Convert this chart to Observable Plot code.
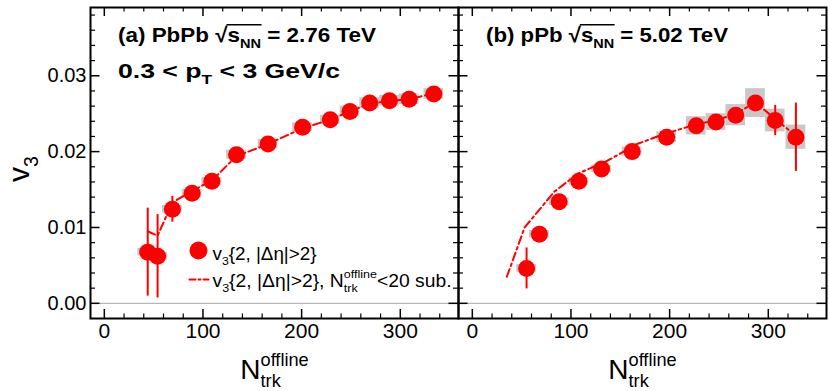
<!DOCTYPE html>
<html>
<head>
<meta charset="utf-8">
<script src="https://cdn.jsdelivr.net/npm/d3@7"></script>
<script src="https://cdn.jsdelivr.net/npm/@observablehq/plot@0.6"></script>
<style>
html, body { margin: 0; padding: 0; background: #fff; }
#chart { width: 830px; height: 391px; }
</style>
</head>
<body>
<div id="chart"></div>
<script>
// ---------------- data ----------------
const panels = ["a", "b"];

// (a) PbPb 2.76 TeV : v3{2,|Δη|>2}
const pbpbN     = [44, 54, 69, 89, 109, 134, 166, 201, 229, 249, 269, 289, 309, 334];
const pbpbV3    = [0.00675, 0.0062, 0.0124, 0.0145, 0.0161, 0.0196, 0.0210, 0.0232, 0.0242, 0.0253, 0.0264, 0.0267, 0.0269, 0.0276];
const pbpbStat  = [0.0058, 0.0055, 0.0017, 0.0004, 0.0004, 0.0004, 0.0004, 0.0003, 0.0003, 0.0003, 0.0003, 0.0003, 0.0003, 0.0003];
const pbpbSyst  = [0.0005, 0.0005, 0.0005, 0.0005, 0.0005, 0.0006, 0.0006, 0.0006, 0.0006, 0.0007, 0.0007, 0.0007, 0.0007, 0.0007];
// (a) low-multiplicity (N<20) subtracted
const pbpbSubN  = [44, 54, 69, 89, 109, 134, 166, 201, 229, 249, 269, 289, 309, 334];
const pbpbSubV3 = [0.0095, 0.0089, 0.0133, 0.0148, 0.0162, 0.0194, 0.0210, 0.0231, 0.0242, 0.0253, 0.0263, 0.0267, 0.0269, 0.0277];

// (b) pPb 5.02 TeV : v3{2,|Δη|>2}
const ppbN      = [55, 68, 88, 108, 131, 162, 197, 227, 247, 267, 287, 307, 328];
const ppbV3     = [0.0046, 0.0091, 0.0134, 0.0161, 0.0177, 0.0200, 0.0219, 0.0234, 0.0239, 0.0248, 0.0264, 0.0241, 0.0219];
const ppbStat   = [0.0027, 0.0004, 0.0004, 0.0004, 0.0004, 0.0004, 0.0004, 0.0004, 0.0004, 0.0005, 0.0005, 0.0020, 0.0045];
const ppbSyst   = [0.0005, 0.0005, 0.0005, 0.0005, 0.0005, 0.0006, 0.0007, 0.0012, 0.0011, 0.0014, 0.0019, 0.0015, 0.0016];
// (b) low-multiplicity (N<20) subtracted
const ppbSubN   = [35, 53, 83, 107, 137, 167, 194, 227, 247, 267, 287, 307, 328];
const ppbSubV3  = [0.0035, 0.0100, 0.0147, 0.0171, 0.0188, 0.0210, 0.0223, 0.0236, 0.0241, 0.0250, 0.0265, 0.0243, 0.0221];

// ticks
const xMajor = [0, 100, 200, 300];
const xMinor = [20, 40, 60, 80, 120, 140, 160, 180, 220, 240, 260, 280, 320, 340];
const yMajor = [0, 0.01, 0.02, 0.03];
const yMinor = [0.002, 0.004, 0.006, 0.008, 0.012, 0.014, 0.016, 0.018, 0.022, 0.024, 0.026, 0.028, 0.032, 0.034, 0.036, 0.038];

// text
const panelTitles = ["(a) PbPb √~[s_{NN}] = 2.76 TeV", "(b) pPb √~[s_{NN}] = 5.02 TeV"];
const ptRangeLabel = "0.3 < p_{T} < 3 GeV/c";
const legendLabels = ["v_{3}{2, |Δη|>2}", "v_{3}{2, |Δη|>2}, N_^{trk}{offline}<20 sub."];
const xTitle = "N_^{trk}{offline}";
const yTitle = "v_{3}";

// ---------------- tables ----------------
const points = [
  ...pbpbN.map((n, i) => ({panel: "a", n, v: pbpbV3[i], stat: pbpbStat[i], syst: pbpbSyst[i]})),
  ...ppbN.map((n, i) => ({panel: "b", n, v: ppbV3[i], stat: ppbStat[i], syst: ppbSyst[i]}))
];
const subLine = [
  ...pbpbSubN.map((n, i) => ({panel: "a", n, v: pbpbSubV3[i]})),
  ...ppbSubN.map((n, i) => ({panel: "b", n, v: ppbSubV3[i]}))
];
const titleRows = panels.map((p, i) => ({panel: p, label: panelTitles[i]}));
const xTitleRows = panels.map(p => ({panel: p, label: xTitle}));
const leftOnly = [{panel: "a"}];

// ---------------- styles ----------------
const RED = "#ff0000";
const W = 830, H = 391, ML = 89, MR = 4, MT = 7, MB = 73;
const facetW = (W - ML - MR) / 2, facetH = H - MT - MB;
const yMajLen = 10, yMinLen = 5.5, xMajLen = 9, xMinLen = 4.5;
const dash = "8,3.5,2.5,3.5";
const boxHalf = 10;
const segShape = {draw(context, l) { context.moveTo(0, 0); context.lineTo(0, -l); }};
const fitLengths = new Map([
  [panelTitles[0], 258], [panelTitles[1], 242], [ptRangeLabel, 222],
  [legendLabels[0], 104], [legendLabels[1], 239]
]);

const plot = Plot.plot({
  width: W, height: H,
  marginLeft: ML, marginRight: MR, marginTop: MT, marginBottom: MB,
  style: {fontFamily: "'Liberation Sans', Arial, Helvetica, sans-serif", background: "#fff", color: "#000"},
  fx: {domain: panels, padding: 0, axis: null},
  x: {domain: [-14, 359], axis: null},
  y: {domain: [-0.002, 0.039], axis: null},
  marks: [
    Plot.ruleY([0], {stroke: "#a8a8a8", strokeWidth: 1}),
    Plot.rect(points, {fx: "panel", x1: d => d.n - boxHalf, x2: d => d.n + boxHalf, y1: d => d.v - d.syst, y2: d => d.v + d.syst, fill: "#c8c8c8"}),
    Plot.line(subLine, {fx: "panel", x: "n", y: "v", z: "panel", stroke: RED, strokeWidth: 2, strokeDasharray: dash}),
    Plot.ruleX(points, {fx: "panel", x: "n", y1: d => d.v - d.stat, y2: d => d.v + d.stat, stroke: RED, strokeWidth: 2}),
    Plot.dot(points, {fx: "panel", x: "n", y: "v", r: 8.5, fill: RED}),

    // ticks on all four sides, pointing inward
    Plot.tickY(yMajor, {y: d => d, insetRight: facetW - yMajLen, strokeWidth: 1.5}),
    Plot.tickY(yMajor, {y: d => d, insetLeft: facetW - yMajLen, strokeWidth: 1.5}),
    Plot.tickY(yMinor, {y: d => d, insetRight: facetW - yMinLen, strokeWidth: 1.2}),
    Plot.tickY(yMinor, {y: d => d, insetLeft: facetW - yMinLen, strokeWidth: 1.2}),
    Plot.tickX(xMajor, {x: d => d, insetTop: facetH - xMajLen, strokeWidth: 1.5}),
    Plot.tickX(xMajor, {x: d => d, insetBottom: facetH - xMajLen, strokeWidth: 1.5}),
    Plot.tickX(xMinor, {x: d => d, insetTop: facetH - xMinLen, strokeWidth: 1.2}),
    Plot.tickX(xMinor, {x: d => d, insetBottom: facetH - xMinLen, strokeWidth: 1.2}),
    Plot.frame({stroke: "#000", strokeWidth: 2}),

    // tick labels
    Plot.axisY({anchor: "left", ticks: yMajor, tickSize: 0, tickPadding: 4, tickFormat: d3.format(".2f"), label: null, fontSize: 20}),
    Plot.axisX({anchor: "bottom", ticks: xMajor, tickSize: 0, tickPadding: 5, tickFormat: d3.format("d"), label: null, fontSize: 21}),

    // axis titles
    Plot.text(xTitleRows, {fx: "panel", text: "label", frameAnchor: "bottom", dy: 60, lineAnchor: "bottom", textAnchor: "middle", fontSize: 28}),
    Plot.text(leftOnly, {fx: "panel", text: () => yTitle, frameAnchor: "left", rotate: -90, dx: -71, dy: 6, textAnchor: "middle", lineAnchor: "middle", fontSize: 30}),

    // panel titles
    Plot.text(titleRows, {fx: "panel", text: "label", frameAnchor: "top-left", dx: 27.5, dy: 34, textAnchor: "start", lineAnchor: "bottom", fontSize: 21, fontWeight: "bold"}),
    Plot.text(leftOnly, {fx: "panel", text: () => ptRangeLabel, frameAnchor: "top-left", dx: 27.5, dy: 70, textAnchor: "start", lineAnchor: "bottom", fontSize: 21, fontWeight: "bold"}),

    // legend
    Plot.dot(leftOnly, {fx: "panel", frameAnchor: "bottom-left", dx: 108, dy: -68, r: 9, fill: RED}),
    Plot.vector(leftOnly, {fx: "panel", frameAnchor: "bottom-left", dx: 99, dy: -39, length: 19, rotate: 90, anchor: "start", shape: segShape, stroke: RED, strokeWidth: 2, strokeDasharray: "6,3,2,3"}),
    Plot.text(leftOnly, {fx: "panel", text: () => legendLabels[0], frameAnchor: "bottom-left", dx: 122, dy: -59, textAnchor: "start", lineAnchor: "bottom", fontSize: 18}),
    Plot.text(leftOnly, {fx: "panel", text: () => legendLabels[1], frameAnchor: "bottom-left", dx: 122, dy: -32, textAnchor: "start", lineAnchor: "bottom", fontSize: 18})
  ]
});

document.getElementById("chart").append(plot);

// ---------------- rich text (sub/superscripts, overline) ----------------
const NS = "http://www.w3.org/2000/svg";
function parseRich(str) {
  const segs = [];
  let over = false, i = 0, buf = "";
  const flush = () => { if (buf) segs.push({t: buf, k: "n", over}); buf = ""; };
  while (i < str.length) {
    if (str.startsWith("~[", i)) { flush(); over = true; i += 2; continue; }
    if (over && str[i] === "]") { flush(); over = false; i += 1; continue; }
    if (str.startsWith("_^{", i)) {
      const a = str.indexOf("}", i), b = str.indexOf("}", a + 1);
      flush(); segs.push({t: str.slice(i + 3, a), t2: str.slice(a + 2, b), k: "stack", over}); i = b + 1; continue;
    }
    if (str.startsWith("_{", i) || str.startsWith("^{", i)) {
      const a = str.indexOf("}", i);
      flush(); segs.push({t: str.slice(i + 2, a), k: str[i] === "_" ? "sub" : "sup", over}); i = a + 1; continue;
    }
    buf += str[i]; i += 1;
  }
  flush();
  return segs;
}
function richify(el) {
  const fs = parseFloat(getComputedStyle(el).fontSize);
  const segs = parseRich(el.textContent);
  el.textContent = "";
  let cur = 0, idx = 0, pendingDx = 0;
  const over = [];
  const small = +(fs * 0.65).toFixed(2);
  const add = (txt, size, shift) => {
    const t = document.createElementNS(NS, "tspan");
    t.textContent = txt;
    if (size) t.setAttribute("font-size", size);
    const d = shift - cur;
    if (Math.abs(d) > 1e-9) t.setAttribute("dy", d.toFixed(2));
    if (pendingDx) { t.setAttribute("dx", pendingDx.toFixed(2)); pendingDx = 0; }
    cur = shift;
    el.appendChild(t);
    return t;
  };
  for (const s of segs) {
    const n0 = idx;
    if (s.k === "n") { add(s.t, null, 0); idx += s.t.length; }
    else if (s.k === "sub") { add(s.t, small, fs * 0.3); idx += s.t.length; }
    else if (s.k === "sup") { add(s.t, small, -fs * 0.42); idx += s.t.length; }
    else {
      const b = add(s.t, small, fs * 0.3);
      const wb = b.getComputedTextLength();
      pendingDx = -wb;
      const a = add(s.t2, small, -fs * 0.45);
      const wa = a.getComputedTextLength();
      if (wb > wa) pendingDx = wb - wa;
      idx += s.t.length + s.t2.length;
    }
    if (s.over) for (let k = n0; k < idx; k++) over.push(k);
  }
  el.__over = over;
  el.__fs = fs;
}
const richEls = [];
plot.querySelectorAll("text").forEach(el => {
  const raw = el.textContent;
  if (/_\{|\^\{|~\[/.test(raw)) {
    const L = fitLengths.get(raw);
    richify(el);
    richEls.push(el);
    if (L) { el.setAttribute("textLength", L); el.setAttribute("lengthAdjust", "spacingAndGlyphs"); }
  }
});
richEls.forEach(el => {
  const o = el.__over;
  if (!o || !o.length) return;
  const p0 = el.getStartPositionOfChar(o[0]);
  const p1 = el.getEndPositionOfChar(o[o.length - 1]);
  const y = p0.y - el.__fs * 0.8;
  const line = document.createElementNS(NS, "line");
  line.setAttribute("x1", p0.x - 1);
  line.setAttribute("x2", p1.x + 0.5);
  line.setAttribute("y1", y);
  line.setAttribute("y2", y);
  line.setAttribute("stroke", "#000");
  line.setAttribute("stroke-width", 1.6);
  const tr = el.getAttribute("transform");
  if (tr) line.setAttribute("transform", tr);
  el.parentNode.appendChild(line);
});
</script>
</body>
</html>
